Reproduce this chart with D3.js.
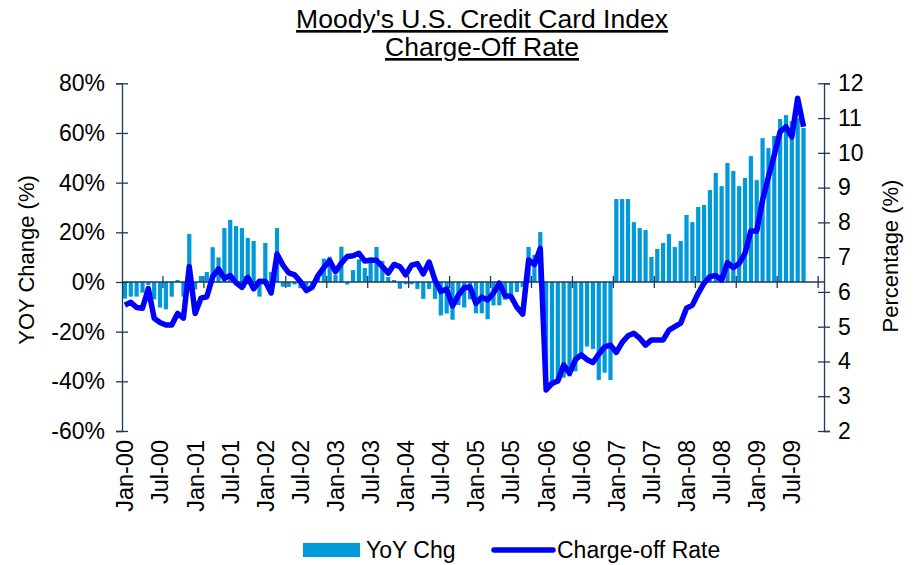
<!DOCTYPE html>
<html>
<head>
<meta charset="utf-8">
<script src="https://cdn.jsdelivr.net/npm/d3@7"></script>
<style>
  body { margin: 0; background: #fff; }
  text { font-family: "Liberation Sans", Arial, sans-serif; fill: #000; }
</style>
</head>
<body>
<svg id="chart" width="920" height="565"></svg>
<script>
// monthly categories Jan-00 .. Dec-09 (data runs to Sep-09)
var months = d3.utcMonths(new Date(Date.UTC(2000, 0, 1)), new Date(Date.UTC(2010, 0, 1)));

// YoY change of charge-off rate, %
var yoyChg = [
  -6.7, -5.9, -5.9, -4.3, -1.2, -7, -10.3, -11, -5.9, 0.8, -5.9, 19.3,
  -3, 2.4, 4, 14, 9.9, 21.7, 25, 22.5, 21.7, 17.7, 16.5, -5.9,
  15.7, 4, 21.7, -1.9, -2, -1, -2.5, -1.6, -1.5, 3, 9.4, 10.2,
  2.8, 14.2, -1, 4.8, 9.1, 5.6, 9.9, 14.1, 8.5, 2, 0.8, -2.7,
  -0.9, -0.9, -2.8, -6.8, -2.8, -6.8, -13.5, -12.7, -15.2, -9.3, -10.3, -7,
  -12.6, -12.6, -15, -9.4, -9.4, -7.2, -6, -4, -2, 14.1, 10.9, 20.1,
  -42, -42, -39.5, -38.5, -38, -36, -30, -26, -27, -39.5, -36.5, -39.5,
  33.4, 33.4, 33.4, 24.1, 21.7, 20.9, 10.1, 13.3, 15.7, 19.3, 14.1, 16.5,
  27, 24.1, 30.2, 31, 37, 43.9, 38.6, 47.9, 44.7, 38.6, 41.9, 50.7,
  41, 57.9, 53.9, 58.8, 65.6, 67.2, 64.8, 66, 62
];

// charge-off rate, %
var chargeOff = [
  5.62, 5.70, 5.55, 5.53, 6.10, 5.24, 5.12, 5.05, 5.05, 5.38, 5.25, 6.73,
  5.38, 5.82, 5.86, 6.44, 6.66, 6.39, 6.47, 6.26, 6.13, 6.42, 6.09, 6.31,
  6.30, 5.97, 7.09, 6.77, 6.55, 6.49, 6.30, 6.04, 6.13, 6.47, 6.70, 6.90,
  6.58, 6.83, 7.02, 7.04, 7.11, 6.89, 6.91, 6.91, 6.73, 6.54, 6.79, 6.73,
  6.49, 6.77, 6.81, 6.52, 6.86, 6.34, 6.01, 6.08, 5.60, 5.90, 6.12, 6.14,
  5.67, 5.85, 5.77, 5.97, 6.25, 5.89, 5.87, 5.56, 5.36, 6.92, 6.79, 7.25,
  3.18, 3.37, 3.44, 3.90, 3.66, 4.05, 4.19, 4.05, 3.97, 4.21, 4.42, 4.47,
  4.26, 4.55, 4.74, 4.81, 4.67, 4.47, 4.62, 4.62, 4.62, 4.90, 5.00, 5.10,
  5.53, 5.62, 5.96, 6.25, 6.44, 6.47, 6.34, 6.84, 6.70, 6.82, 7.11, 7.75,
  7.75, 8.64, 9.31, 9.94, 10.61, 10.75, 10.46, 11.57, 10.75
];

var leftTicks = [-60, -40, -20, 0, 20, 40, 60, 80];
var rightTicks = [2, 3, 4, 5, 6, 7, 8, 9, 10, 11, 12];
var xTickLabels = ["Jan-00", "Jul-00", "Jan-01", "Jul-01", "Jan-02", "Jul-02", "Jan-03", "Jul-03",
  "Jan-04", "Jul-04", "Jan-05", "Jul-05", "Jan-06", "Jul-06", "Jan-07", "Jul-07",
  "Jan-08", "Jul-08", "Jan-09", "Jul-09"];

(function() {
  'use strict';

  var plotLeft = 122, plotRight = 824, plotTop = 83.3, plotBottom = 431;
  var axisColor = "#1b3a5c";
  var fontSize = "23px";
  var fmt = d3.utcFormat("%b-%y");

  var svg = d3.select("#chart");

  var x = d3.scaleBand().domain(d3.range(months.length)).range([plotLeft, plotRight])
    .paddingInner(0.28).paddingOuter(0.14);
  var step = x.step();
  var yL = d3.scaleLinear().domain([-60, 80]).range([plotBottom, plotTop]);
  var yR = d3.scaleLinear().domain([2, 12]).range([plotBottom, plotTop]);

  // title
  var title = svg.append("text")
    .attr("text-anchor", "middle")
    .style("font-size", "26.5px").attr("text-decoration", "underline");
  title.append("tspan").attr("x", 482).attr("y", 28).text("Moody's U.S. Credit Card Index");
  title.append("tspan").attr("x", 482).attr("y", 56).text("Charge-Off Rate");

  // bars
  svg.append("g").selectAll("rect")
    .data(yoyChg)
    .join("rect")
    .attr("x", function(d, i) { return x(i); })
    .attr("width", x.bandwidth())
    .attr("y", function(d) { return d >= 0 ? yL(d) : yL(0); })
    .attr("height", function(d) { return Math.abs(yL(d) - yL(0)); })
    .attr("fill", "#009ada");

  // left axis
  var gL = svg.append("g").attr("transform", "translate(" + plotLeft + ",0)");
  gL.call(d3.axisLeft(yL).tickValues(leftTicks).tickSize(6).tickFormat(function(d) { return d + "%"; }));
  gL.selectAll(".tick line").attr("x1", -6).attr("x2", 6);

  // right axis
  var gR = svg.append("g").attr("transform", "translate(" + plotRight + ",0)");
  gR.call(d3.axisRight(yR).tickValues(rightTicks).tickSize(6));
  gR.selectAll(".tick line").attr("x1", -6).attr("x2", 6);

  [gL, gR].forEach(function(g) {
    g.select(".domain").attr("stroke", axisColor).attr("stroke-width", 1.3);
    g.selectAll(".tick line").attr("stroke", axisColor).attr("stroke-width", 1.3);
    g.selectAll(".tick text").style("font-size", fontSize).attr("fill", "#000")
      .attr("font-family", "'Liberation Sans', Arial, sans-serif");
  });
  gL.selectAll(".tick text").attr("x", -17);
  gR.selectAll(".tick text").attr("x", 14);

  // x axis along zero, ticks every 7 months
  var gX = svg.append("g");
  gX.append("line")
    .attr("x1", plotLeft).attr("x2", plotRight)
    .attr("y1", yL(0)).attr("y2", yL(0))
    .attr("stroke", axisColor).attr("stroke-width", 1.3);
  gX.selectAll("line.tk")
    .data(d3.range(7, months.length, 7))
    .join("line").attr("class", "tk")
    .attr("x1", function(i) { return x(i) - (step - x.bandwidth()) / 2; })
    .attr("x2", function(i) { return x(i) - (step - x.bandwidth()) / 2; })
    .attr("y1", yL(0) - 6).attr("y2", yL(0) + 6)
    .attr("stroke", axisColor).attr("stroke-width", 1.3);

  // x labels (every 6 months) below plot
  svg.append("g").selectAll("text")
    .data(months.filter(function(m) { return xTickLabels.indexOf(fmt(m)) >= 0; }))
    .join("text")
    .attr("transform", function(m) {
      var i = months.indexOf(m);
      return "translate(" + (x(i) + x.bandwidth() / 2) + ",440) rotate(-90)";
    })
    .attr("text-anchor", "end").attr("dy", "0.36em")
    .style("font-size", "23.5px")
    .text(function(m) { return fmt(m); });

  // line
  var line = d3.line()
    .x(function(d, i) { return x(i) + x.bandwidth() / 2; })
    .y(function(d) { return yR(d); });
  svg.append("path")
    .datum(chargeOff)
    .attr("d", line)
    .attr("fill", "none")
    .attr("stroke", "#0000ff")
    .attr("stroke-width", 5.5)
    .attr("stroke-linejoin", "round");

  // axis titles
  svg.append("text")
    .attr("transform", "translate(34,260) rotate(-90)")
    .attr("text-anchor", "middle")
    .style("font-size", "22px")
    .text("YOY Change (%)");
  svg.append("text")
    .attr("transform", "translate(898,256) rotate(-90)")
    .attr("text-anchor", "middle")
    .style("font-size", "22px")
    .text("Percentage (%)");

  // legend
  var lg = svg.append("g");
  lg.append("rect").attr("x", 303).attr("y", 543).attr("width", 57).attr("height", 14).attr("fill", "#009ada");
  lg.append("text").attr("x", 366).attr("y", 558).style("font-size", fontSize).text("YoY Chg");
  lg.append("line").attr("x1", 494).attr("x2", 553).attr("y1", 550).attr("y2", 550)
    .attr("stroke", "#0000ff").attr("stroke-width", 5.5).attr("stroke-linecap", "round");
  lg.append("text").attr("x", 557).attr("y", 558).style("font-size", fontSize).text("Charge-off Rate");
}());
</script>
</body>
</html>
